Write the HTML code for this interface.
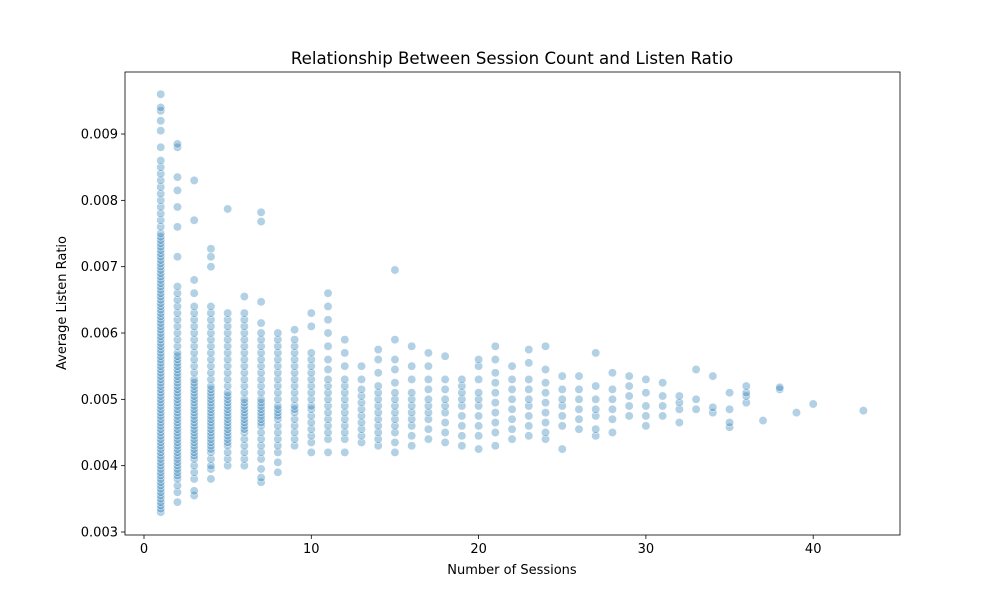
<!DOCTYPE html>
<html><head><meta charset="utf-8"><style>
body{margin:0;background:#fff;}
svg{display:block;font-family:"DejaVu Sans","Liberation Sans",sans-serif;}
</style></head><body>
<svg id="chart" width="1000" height="600">
<rect width="1000" height="600" fill="#fff"/>
<text x="512" y="64" text-anchor="middle" font-size="16.6">Relationship Between Session Count and Listen Ratio</text>
<text x="512" y="574" text-anchor="middle" font-size="13">Number of Sessions</text>
<text x="66" y="303" text-anchor="middle" font-size="13" transform="rotate(-90 66 303)">Average Listen Ratio</text>
<g id="points"></g>
<g id="axes"></g>
</svg>
<script>
const xTicks=[0,10,20,30,40];
const yTicks=[0.003,0.004,0.005,0.006,0.007,0.008,0.009];
const sessions=[1,2,3,4,5,6,7,8,9,10,11,12,13,14,15,16,17,18,19,20,21,22,23,24,25,26,27,28,29,30,31,32,33,34,35,36,37,38,39,40,43];
const ratios=[
[3.3,3.35,3.4,3.45,3.5,3.55,3.6,3.65,3.7,3.75,3.8,3.85,3.9,3.95,4.0,4.05,4.1,4.15,4.2,4.25,4.3,4.35,4.4,4.45,4.5,4.55,4.6,4.65,4.7,4.75,4.8,4.85,4.9,4.95,5.0,5.05,5.1,5.15,5.2,5.25,5.3,5.35,5.4,5.45,5.5,5.55,5.6,5.65,5.7,5.75,5.8,5.85,5.9,5.95,6.0,6.05,6.1,6.15,6.2,6.25,6.3,6.35,6.4,6.45,6.5,6.55,6.6,6.65,6.7,6.75,6.8,6.85,6.9,6.95,7.0,7.05,7.1,7.15,7.2,7.25,7.3,7.35,7.4,7.45,7.5,7.6,7.7,7.8,7.9,8.0,8.1,8.2,8.3,8.4,8.5,8.6,8.8,9.05,9.2,9.35,9.4,9.6],
[3.45,3.6,3.7,3.8,3.85,3.9,3.95,4.0,4.05,4.1,4.15,4.2,4.25,4.3,4.35,4.4,4.45,4.5,4.55,4.6,4.65,4.7,4.75,4.8,4.85,4.9,4.95,5.0,5.05,5.1,5.15,5.2,5.25,5.3,5.35,5.4,5.45,5.5,5.55,5.6,5.65,5.7,5.8,5.9,6.0,6.1,6.2,6.3,6.4,6.5,6.6,6.7,7.15,7.6,7.9,8.15,8.35,8.8,8.85],
[3.55,3.62,3.8,3.9,4.0,4.1,4.15,4.2,4.25,4.3,4.35,4.4,4.45,4.5,4.55,4.6,4.65,4.7,4.75,4.8,4.85,4.9,4.95,5.0,5.05,5.1,5.15,5.2,5.25,5.3,5.4,5.5,5.6,5.7,5.8,5.9,6.0,6.1,6.2,6.3,6.4,6.6,6.8,7.7,8.3],
[3.8,3.95,4.0,4.1,4.2,4.25,4.3,4.35,4.4,4.45,4.5,4.55,4.6,4.65,4.7,4.75,4.8,4.85,4.9,4.95,5.0,5.05,5.1,5.15,5.2,5.3,5.4,5.5,5.6,5.7,5.8,5.9,6.0,6.1,6.2,6.3,6.4,7.0,7.15,7.27],
[4.0,4.1,4.2,4.3,4.35,4.4,4.45,4.5,4.55,4.6,4.65,4.7,4.75,4.8,4.85,4.9,4.95,5.0,5.05,5.1,5.2,5.3,5.4,5.5,5.6,5.7,5.8,5.9,6.0,6.1,6.2,6.3,7.87],
[4.0,4.1,4.2,4.3,4.4,4.5,4.55,4.6,4.65,4.7,4.75,4.8,4.85,4.9,4.95,5.0,5.1,5.2,5.3,5.4,5.5,5.6,5.7,5.8,5.9,6.0,6.1,6.2,6.3,6.55],
[3.75,3.82,3.95,4.1,4.2,4.3,4.4,4.5,4.6,4.65,4.7,4.75,4.8,4.85,4.9,4.95,5.0,5.1,5.2,5.3,5.4,5.5,5.6,5.7,5.8,5.9,6.0,6.15,6.47,7.68,7.82],
[3.9,4.05,4.2,4.3,4.4,4.5,4.6,4.7,4.75,4.8,4.85,4.9,5.0,5.1,5.2,5.3,5.4,5.5,5.6,5.7,5.8,5.9,6.0],
[4.3,4.4,4.5,4.6,4.7,4.8,4.85,4.9,5.0,5.1,5.2,5.3,5.4,5.5,5.6,5.7,5.8,5.9,6.05],
[4.2,4.35,4.45,4.55,4.65,4.75,4.85,4.9,5.0,5.1,5.2,5.3,5.4,5.5,5.6,5.7,6.1,6.3],
[4.2,4.4,4.5,4.6,4.7,4.8,4.9,5.0,5.1,5.2,5.3,5.45,5.6,5.8,6.0,6.2,6.4,6.6],
[4.2,4.4,4.5,4.6,4.7,4.8,4.9,5.0,5.1,5.2,5.3,5.5,5.7,5.9],
[4.35,4.45,4.55,4.65,4.75,4.85,4.95,5.05,5.15,5.3,5.5],
[4.3,4.4,4.5,4.6,4.7,4.8,4.9,5.0,5.1,5.2,5.4,5.6,5.75],
[4.2,4.35,4.5,4.6,4.7,4.8,4.9,5.0,5.1,5.25,5.45,5.6,5.9,6.95],
[4.3,4.45,4.6,4.7,4.8,4.9,5.0,5.1,5.3,5.5,5.8],
[4.4,4.55,4.7,4.8,4.9,5.0,5.15,5.3,5.5,5.7],
[4.35,4.5,4.65,4.8,4.9,5.0,5.15,5.3,5.65],
[4.3,4.45,4.6,4.75,4.9,5.0,5.1,5.2,5.3],
[4.25,4.45,4.6,4.75,4.9,5.0,5.1,5.3,5.5,5.6],
[4.3,4.5,4.65,4.8,4.95,5.1,5.25,5.4,5.6,5.8],
[4.4,4.55,4.7,4.85,5.0,5.15,5.3,5.5],
[4.45,4.6,4.75,4.9,5.0,5.15,5.3,5.55,5.75],
[4.4,4.5,4.65,4.8,4.95,5.1,5.25,5.45,5.8],
[4.25,4.6,4.75,4.9,5.0,5.15,5.35],
[4.55,4.7,4.85,5.0,5.15,5.35],
[4.45,4.55,4.75,4.85,5.0,5.2,5.7],
[4.5,4.7,4.85,5.0,5.15,5.4],
[4.75,4.9,5.05,5.2,5.35],
[4.6,4.75,4.9,5.1,5.3],
[4.75,4.9,5.05,5.25],
[4.65,4.85,4.95,5.05],
[4.85,5.0,5.45],
[4.8,4.88,5.35],
[4.58,4.65,4.85,5.1],
[4.95,5.05,5.1,5.2],
[4.68],[5.15,5.18],[4.8],[4.93],[4.83]
];
const X0=125,X1=900,Y0=72,Y1=535;
const xs=v=>144+(v-0)*16.73;
const ys=v=>532-(v-0.003)*66330;
const NS="http://www.w3.org/2000/svg";
const pts=document.getElementById('points');
sessions.forEach((s,i)=>{ratios[i].forEach(r=>{
 const c=document.createElementNS(NS,'circle');
 c.setAttribute('cx',xs(s));c.setAttribute('cy',ys(r/1000));c.setAttribute('r',4.2);
 c.setAttribute('fill','rgba(31,119,180,0.34)');c.setAttribute('stroke','rgba(255,255,255,1)');c.setAttribute('stroke-width','0.5');
 
 
 pts.appendChild(c);});});
const ax=document.getElementById('axes');
function el(t,a,txt){const e=document.createElementNS(NS,t);for(const k in a)e.setAttribute(k,a[k]);if(txt!==undefined)e.textContent=txt;ax.appendChild(e);return e;}
const frame=el('rect',{x:X0,y:Y0,width:X1-X0,height:Y1-Y0,fill:'none',stroke:'#000','stroke-width':0.8});


xTicks.forEach(t=>{const x=xs(t);
 const l=el('line',{x1:x,x2:x,y1:Y1,y2:Y1+4,stroke:'#000','stroke-width':0.8});
 
 
 const tx=el('text',{x:x,y:Y1+18,'text-anchor':'middle','font-size':13},String(t));
 
 });
yTicks.forEach(t=>{const y=ys(t);
 const l=el('line',{x1:X0-4,x2:X0,y1:y,y2:y,stroke:'#000','stroke-width':0.8});
 
 
 const tx=el('text',{x:X0-7,y:y+4.5,'text-anchor':'end','font-size':13},t.toFixed(3));
 
 });
</script>
</body></html>
